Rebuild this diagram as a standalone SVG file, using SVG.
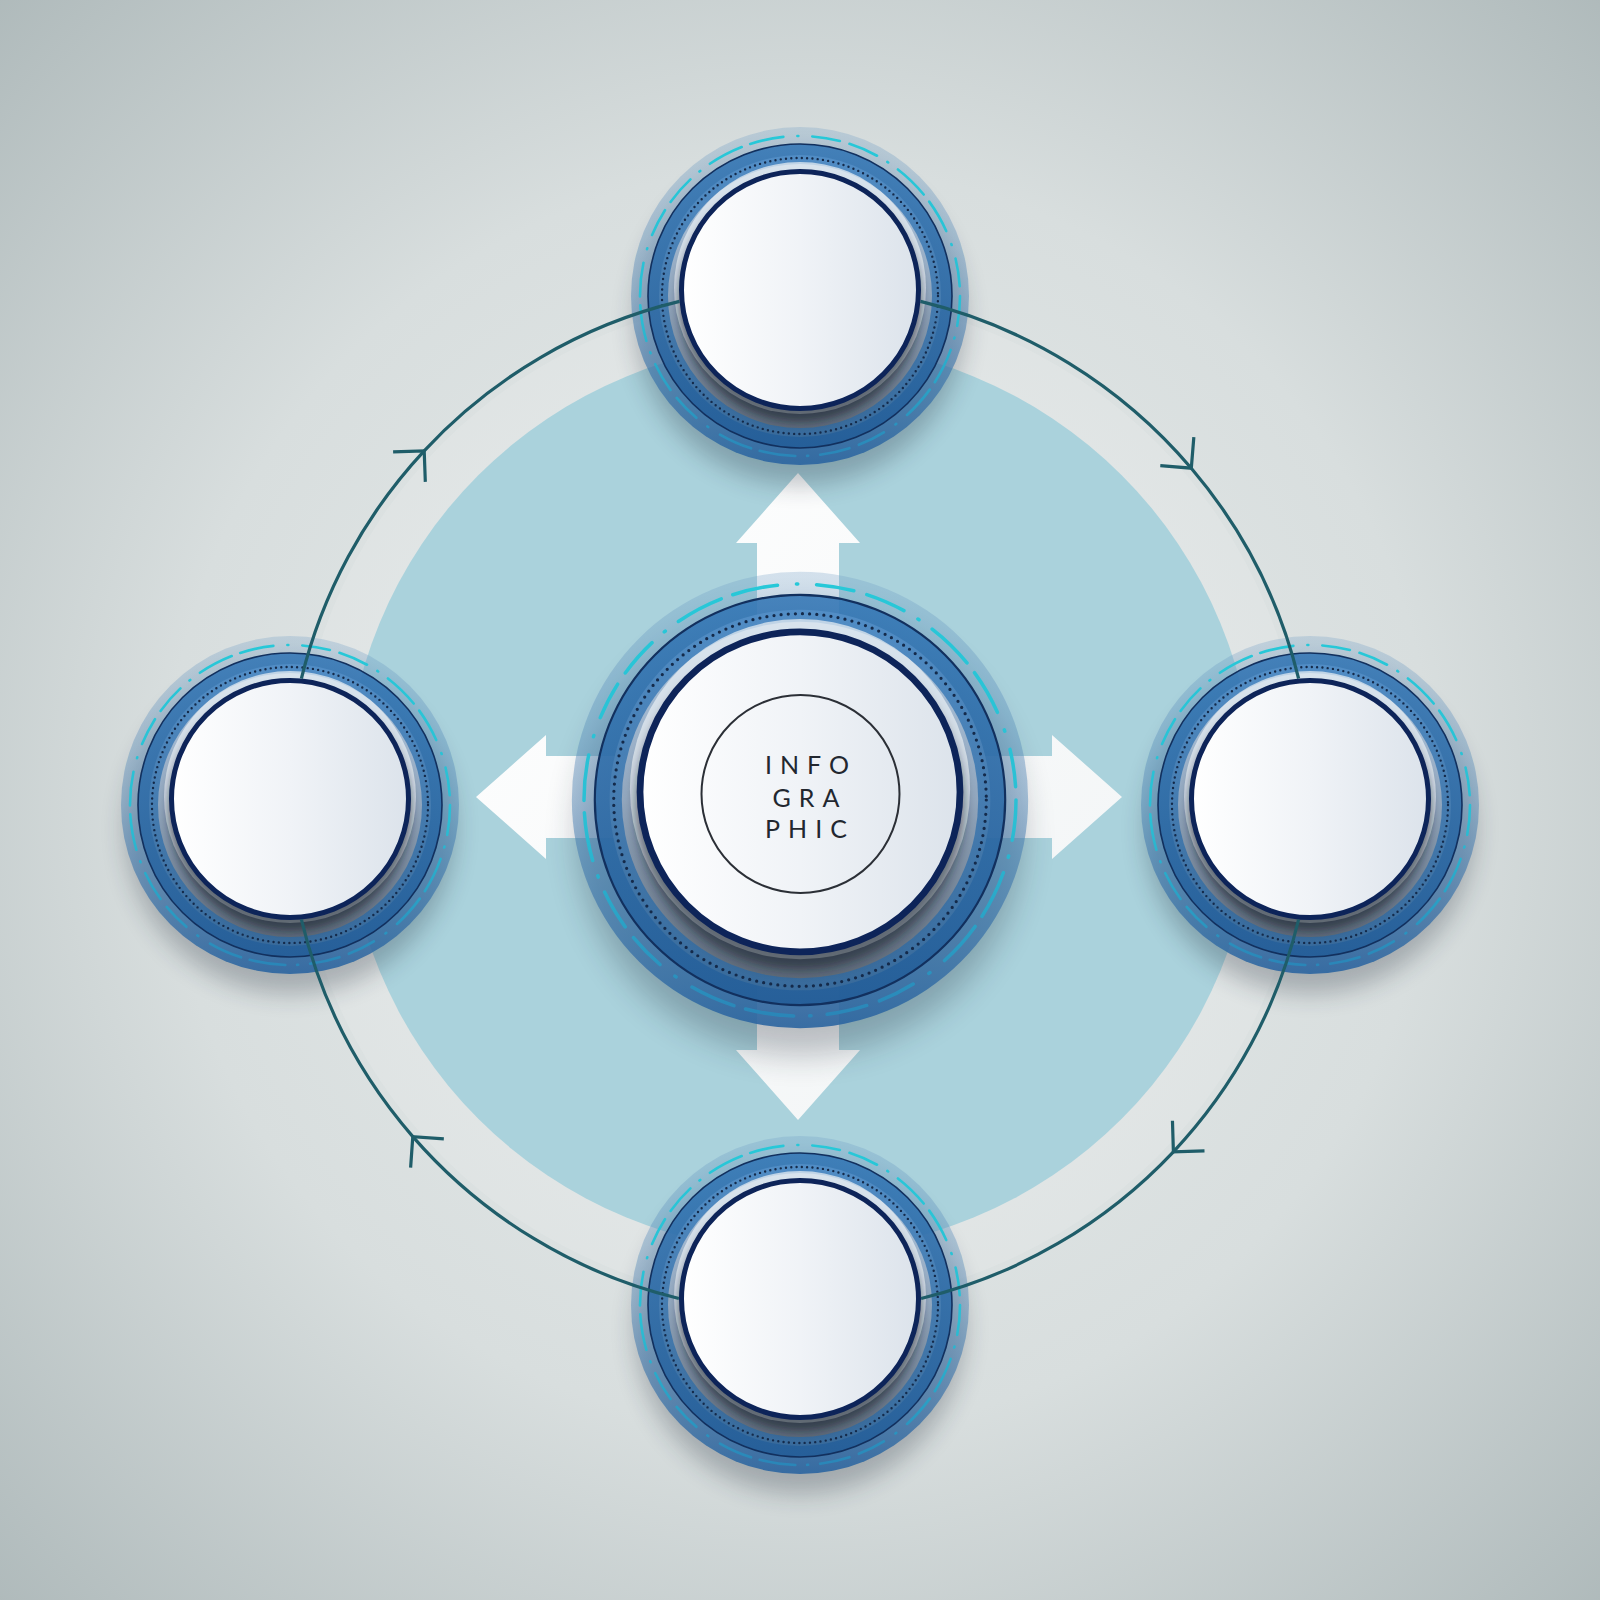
<svg xmlns="http://www.w3.org/2000/svg" xmlns:xlink="http://www.w3.org/1999/xlink" width="1600" height="1600" viewBox="0 0 1600 1600">
<style>
.conn{fill:none;stroke:#1f5d69;stroke-width:3.2;marker-mid:url(#chev)}
.label{font-family:Lato,"DejaVu Sans",sans-serif;font-weight:400;font-size:25px;fill:#22272f;letter-spacing:8px;text-anchor:middle}
</style>
<defs>
  <radialGradient id="bg" cx="50%" cy="50%" r="72%">
    <stop offset="0" stop-color="#e8ecec"/>
    <stop offset="0.55" stop-color="#d8dede"/>
    <stop offset="1" stop-color="#aeb9ba"/>
  </radialGradient>
  <linearGradient id="haloG" x1="0" y1="0" x2="0" y2="1">
    <stop offset="0" stop-color="#6f9cc4" stop-opacity="0.28"/>
    <stop offset="0.5" stop-color="#4a82b5" stop-opacity="0.45"/>
    <stop offset="1" stop-color="#2a64a0" stop-opacity="0.9"/>
  </linearGradient>
  <linearGradient id="dashG" x1="0" y1="0" x2="0" y2="1">
    <stop offset="0" stop-color="#27c8d8"/>
    <stop offset="0.55" stop-color="#2bbfd4"/>
    <stop offset="1" stop-color="#2a86b8"/>
  </linearGradient>
  <linearGradient id="ringG" x1="0" y1="0" x2="0" y2="1">
    <stop offset="0" stop-color="#3175b5"/>
    <stop offset="1" stop-color="#225c97"/>
  </linearGradient>
  <linearGradient id="bandG" x1="0" y1="0" x2="0" y2="1">
    <stop offset="0" stop-color="#5691c9"/>
    <stop offset="1" stop-color="#3d6d9b"/>
  </linearGradient>
  <linearGradient id="innerG" x1="0" y1="0" x2="0" y2="1">
    <stop offset="0" stop-color="#b9cde2"/>
    <stop offset="0.5" stop-color="#9aabbf"/>
    <stop offset="1" stop-color="#646c77"/>
  </linearGradient>
  <linearGradient id="discG" x1="0" y1="0" x2="1" y2="0">
    <stop offset="0" stop-color="#ffffff"/>
    <stop offset="0.5" stop-color="#f0f3f7"/>
    <stop offset="1" stop-color="#dce3eb"/>
  </linearGradient>
  <linearGradient id="arrowG" x1="0" y1="0" x2="1" y2="1">
    <stop offset="0" stop-color="#ffffff"/>
    <stop offset="1" stop-color="#f1f4f5"/>
  </linearGradient>
  <filter id="blurL" x="-30%" y="-30%" width="160%" height="160%"><feGaussianBlur stdDeviation="12"/></filter>
  <filter id="blurS" x="-20%" y="-20%" width="140%" height="140%"><feGaussianBlur stdDeviation="4"/></filter>
  <marker id="chev" markerUnits="userSpaceOnUse" viewBox="-30 -30 60 60" markerWidth="60" markerHeight="60" refX="0" refY="0" orient="auto" overflow="visible">
    <path d="M-22,-22 L0,0 L-22,22" fill="none" stroke="#1f5d69" stroke-width="3.2"/>
  </marker>
  <g id="nodeBase">
    <circle cy="24" r="165" fill="#1a2636" opacity="0.28" filter="url(#blurL)"/>
    <circle r="169" fill="url(#haloG)"/>
    <circle r="160" fill="none" stroke="url(#dashG)" stroke-width="2.6" stroke-linecap="round" stroke-dasharray="30 12 1 12 36 9 34 14 1 14 28 10"/>
    <circle r="152" fill="url(#ringG)" fill-opacity="0.86" stroke="#12305e" stroke-width="1.6"/>
    <circle r="141" fill="url(#bandG)" fill-opacity="0.8"/>
    <circle r="138" fill="none" stroke="#142a4a" stroke-width="2.4" stroke-linecap="round" stroke-dasharray="0 5.3"/>
    <circle r="132" fill="url(#innerG)" fill-opacity="0.9"/>
    <circle cy="-8" r="126" fill="#e6ecf2" opacity="0.75"/>
    <circle cy="4" r="122" fill="#0b1424" opacity="0.55" filter="url(#blurS)"/>
    <circle cy="-6" r="118.5" fill="url(#discG)" stroke="#0d2459" stroke-width="5"/>
  </g>
</defs>

<rect width="1600" height="1600" fill="url(#bg)"/>
<circle cx="800" cy="800" r="505" fill="#ffffff" opacity="0.12"/>
<circle id="backdrop" cx="800" cy="797" r="455" fill="#aad2dc"/>

<g id="arrows">
  <polygon fill="url(#arrowG)" points="757,543 736,543 798,473 860,543 839,543 839,756 1052,756 1052,735 1122,797 1052,859 1052,838 839,838 839,1050 860,1050 798,1120 736,1050 757,1050 757,838 546,838 546,859 476,797 546,735 546,756 757,756"/>
</g>

<g id="node-top" transform="translate(800,296)"><use href="#nodeBase"/></g>
<g id="node-left" transform="translate(290,805)"><use href="#nodeBase"/></g>
<g id="node-right" transform="translate(1310,805)"><use href="#nodeBase"/></g>
<g id="node-bottom" transform="translate(800,1305)"><use href="#nodeBase"/></g>
<g id="node-center">
  <g transform="translate(800,800) scale(1.35)"><use href="#nodeBase"/></g>
  <circle cx="800.5" cy="794" r="99" fill="none" stroke="#2b2f36" stroke-width="2"/>
  <text class="label" x="811" y="774">INFO</text>
  <text class="label" x="810" y="807">GRA</text>
  <text class="label" x="810" y="838">PHIC</text>
</g>

<g id="connectors">
  <path class="conn" d="M301.4,678.5 A513,513 0 0 1 424.2,450.8 A513,513 0 0 1 679.5,301.4"/>
  <path class="conn" d="M920.5,301.4 A513,513 0 0 1 1191.3,468.2 A513,513 0 0 1 1298.6,678.5"/>
  <path class="conn" d="M1298.6,919.5 A513,513 0 0 1 1173.4,1151.8 A513,513 0 0 1 921.1,1298.5"/>
  <path class="conn" d="M678.9,1298.5 A513,513 0 0 1 412.8,1136.6 A513,513 0 0 1 301.4,919.5"/>
</g>
</svg>
